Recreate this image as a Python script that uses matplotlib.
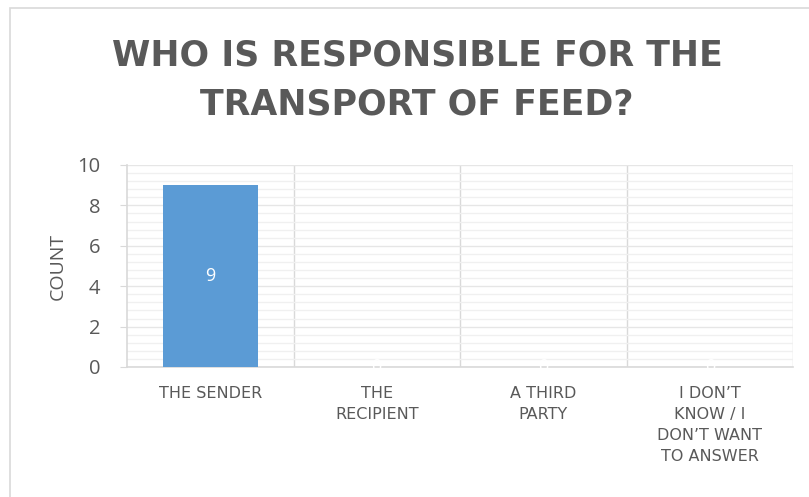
import matplotlib
matplotlib.use('Agg')
import matplotlib.pyplot as plt
from matplotlib.patches import Rectangle
from matplotlib.ticker import MultipleLocator

categories = ['THE SENDER', 'THE\nRECIPIENT', 'A THIRD\nPARTY', 'I DON\u2019T\nKNOW / I\nDON\u2019T WANT\nTO ANSWER']
counts = [9, 0, 0, 0]
title = 'WHO IS RESPONSIBLE FOR THE\nTRANSPORT OF FEED?'

gray = '#595959'
line_gray = '#d9d9d9'

plt.rcParams['font.family'] = ['Open Sans', 'DejaVu Sans']

fig = plt.figure(figsize=(8.09, 4.97), dpi=100)
ax = fig.add_axes([127 / 809, 1 - 367 / 497, (793 - 127) / 809, (367 - 165) / 497])

# outer chart border (cropped on right and bottom)
fig.patches.append(Rectangle((9.5 / 809, -0.5), 2, 1.5 - 7.5 / 497, transform=fig.transFigure,
                             fill=False, edgecolor=line_gray, linewidth=1.2))

x = range(len(categories))
bars = ax.bar(x, counts, width=0.57, color='#5B9BD5', zorder=3)
for b, v in zip(bars, counts):
    ax.text(b.get_x() + b.get_width() / 2, v / 2, str(v), ha='center', va='center',
            color='white', fontsize=13, zorder=4)

ax.set_xlim(-0.5, len(categories) - 0.5)
ax.set_ylim(0, 10)
ax.yaxis.set_major_locator(MultipleLocator(2))
ax.yaxis.set_minor_locator(MultipleLocator(0.4))
ax.grid(axis='y', which='minor', color='#f0f0f0', linewidth=1, zorder=0)
ax.grid(axis='y', which='major', color='#e6e6e6', linewidth=1, zorder=0)
for xb in [0.5, 1.5, 2.5, 3.5]:
    ax.axvline(xb, color=line_gray, linewidth=1, zorder=1)

for s in ['top', 'right']:
    ax.spines[s].set_visible(False)
ax.spines['left'].set_color(line_gray)
ax.spines['bottom'].set_color(line_gray)
ax.spines['left'].set_linewidth(1.2)
ax.spines['bottom'].set_linewidth(1.2)

ax.set_xticks(list(x))
ax.set_xticklabels(categories, fontsize=11.5, color=gray, linespacing=1.5, va='top',
                   family=['DejaVu Sans'])
ax.tick_params(axis='x', length=0, pad=14)
ax.tick_params(axis='y', which='major', length=5, color=line_gray, labelsize=14.5, labelcolor=gray, pad=14)
ax.tick_params(axis='y', which='minor', length=0)

ax.set_ylabel('COUNT', fontsize=14, color=gray, labelpad=8)

fig.text(417 / 809, 1 - 80 / 497, title, ha='center', va='center', fontsize=25,
         fontweight='bold', color=gray, linespacing=1.55, family=['DejaVu Sans'])

fig.savefig('out.png', dpi=100, facecolor='white')
